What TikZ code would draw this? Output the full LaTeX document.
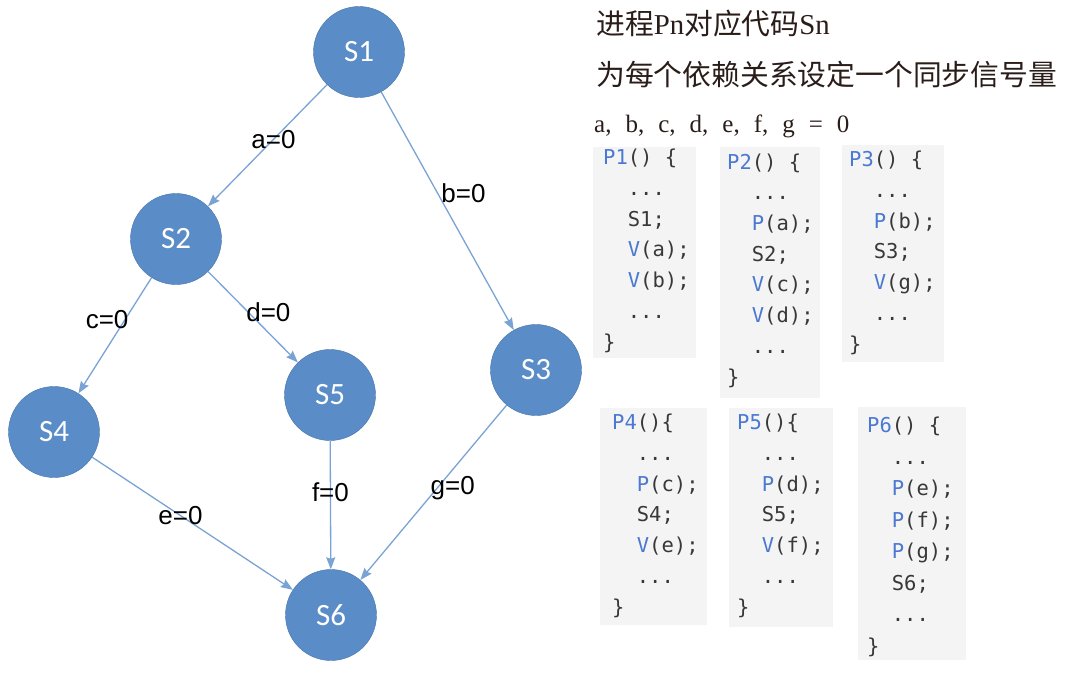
\documentclass[tikz,border=0pt]{standalone}
\usepackage{fontspec}
\setmainfont{Liberation Serif}
\newfontfamily\cjk{Noto Sans CJK SC}
\newfontfamily\labelfont{Liberation Sans}
\newfontfamily\statefont{Carlito}
\newfontfamily\codefont{DejaVu Sans Mono}
\usetikzlibrary{arrows.meta}

\definecolor{statefill}{HTML}{5A8DC8}
\definecolor{stateline}{HTML}{4673A8}
\definecolor{edgeblue}{HTML}{79A3D4}
\definecolor{codebg}{HTML}{F4F4F4}
\definecolor{codeblue}{HTML}{4A78D2}
\definecolor{codetext}{HTML}{383838}
\definecolor{headtext}{HTML}{2A1D19}

\newcommand\kw[1]{\textcolor{codeblue}{#1}}
\newcommand\ind{\phantom{xx}}

\tikzset{
  codebox/.style={anchor=base west,inner sep=0pt,align=left,text=codetext,
    font=\codefont\fontsize{20.5}{30.7}\selectfont},
  headline/.style={anchor=base west,inner sep=0pt,text=headtext,
    font=\fontsize{28.8}{34}\selectfont}
}

\begin{document}
\begin{tikzpicture}[x=1pt,y=-1pt]
  \useasboundingbox (0,0) rectangle (1069,673);

      \begin{scope}[every node/.style={circle,draw=stateline,fill=statefill,
          minimum size=91pt,inner sep=0pt,text=white,
          font=\statefont\fontsize{31}{31}\selectfont}]
        \node (s1) at (359,52)  {S1};
        \node (s2) at (176,239) {S2};
        \node (s3) at (536,370) {S3};
        \node (s4) at (54,432)  {S4};
        \node (s5) at (330,395) {S5};
        \node (s6) at (331,615) {S6};
      \end{scope}

      \begin{scope}[every node/.style={inner sep=0pt,
          font=\labelfont\fontsize{26}{26}\selectfont}]

        \begin{scope}[every edge/.style={draw=edgeblue,line width=1.3pt,
            -{Stealth[length=12pt,width=9pt,inset=1.5pt]}}]
          \path (s1) edge node[pos=.45] {a=0} (s2);
          \path (s1) edge node[pos=.47,xshift=20pt,yshift=11pt] {b=0} (s3);
          \path (s2) edge node[pos=.43,xshift=-13pt,yshift=8pt] {c=0} (s4);
          \path (s2) edge node[pos=.56,xshift=10pt,yshift=10pt] {d=0} (s5);
          \path (s4) edge node[pos=.44] {e=0} (s6);
          \path (s5) edge node[pos=.4] {f=0} (s6);
          \path (s3) edge node[pos=.43,xshift=9pt,yshift=-8pt] {g=0} (s6);
        \end{scope}
      \end{scope}

      % header lines
      \node[headline] (title) at (596,34) {{\cjk 进程}Pn{\cjk 对应代码}Sn};
      \node[headline] (rule) at (596,85) {\cjk 为每个依赖关系设定一个同步信号量};
      \node[headline,font=\fontsize{25}{30}\selectfont] (init) at (594,132)
        {\spaceskip=14pt a, b, c, d, e, f, g = 0};

      % code blocks (anchored on the last line)
      \fill[codebg] (593,147) rectangle (696,358);
      \fill[codebg] (720,147) rectangle (820,398);
      \fill[codebg] (842,145) rectangle (944,362);
      \fill[codebg] (600,408) rectangle (707,625);
      \fill[codebg] (729,408) rectangle (833,627);
      \fill[codebg] (858,407) rectangle (966,660);

      \node[codebox] (p1) at (603,349)
        {\kw{P1}() \{\\ \ind...\\ \ind S1;\\ \ind\kw{V}(a);\\ \ind\kw{V}(b);\\ \ind...\\ \}};
      \node[codebox] (p2) at (727,384)
        {\kw{P2}() \{\\ \ind...\\ \ind\kw{P}(a);\\ \ind S2;\\ \ind\kw{V}(c);\\ \ind\kw{V}(d);\\ \ind...\\ \}};
      \node[codebox] (p3) at (849,351)
        {\kw{P3}() \{\\ \ind...\\ \ind\kw{P}(b);\\ \ind S3;\\ \ind\kw{V}(g);\\ \ind...\\ \}};
      \node[codebox] (p4) at (612,614)
        {\kw{P4}()\{\\ \ind...\\ \ind\kw{P}(c);\\ \ind S4;\\ \ind\kw{V}(e);\\ \ind...\\ \}};
      \node[codebox] (p5) at (737,614)
        {\kw{P5}()\{\\ \ind...\\ \ind\kw{P}(d);\\ \ind S5;\\ \ind\kw{V}(f);\\ \ind...\\ \}};
      \node[codebox,font=\codefont\fontsize{20.5}{31.5}\selectfont] (p6) at (867,653)
        {\kw{P6}() \{\\ \ind...\\ \ind\kw{P}(e);\\ \ind\kw{P}(f);\\ \ind\kw{P}(g);\\ \ind S6;\\ \ind...\\ \}};

    \end{tikzpicture}
\end{document}
